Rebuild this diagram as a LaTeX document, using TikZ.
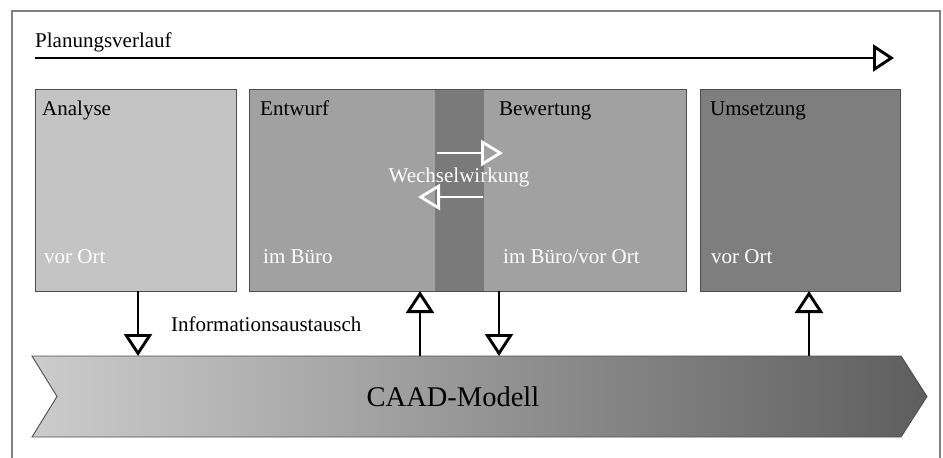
\documentclass[tikz,border=0pt]{standalone}
\usepackage{fontspec}
\setmainfont{Liberation Serif}
\usetikzlibrary{arrows.meta}

\definecolor{boxline}{HTML}{4E4E4E}
\definecolor{framegray}{HTML}{808080}
\definecolor{analysefill}{HTML}{C4C4C4}
\definecolor{entwurffill}{HTML}{A1A1A1}
\definecolor{stripfill}{HTML}{7A7A7A}
\definecolor{umsetzfill}{HTML}{7E7E7E}
\definecolor{bandleft}{HTML}{CCCCCC}
\definecolor{bandright}{HTML}{5E5E5E}

\tikzset{
  phase/.style={draw=boxline, line width=1pt, rectangle, anchor=north west,
    inner sep=0pt, outer sep=0pt, minimum height=202pt},
  title/.style={anchor=base west, inner sep=0pt, text=black},
  place/.style={anchor=base west, inner sep=0pt, text=white},
  flow/.style={line width=2.9pt, -{Triangle[open, length=21pt, width=27pt, line width=2.9pt]}},
  exchange/.style={line width=2.9pt, -{Triangle[open, length=22pt, width=28pt, line width=2.9pt]}},
  interplay/.style={draw=white, line width=2.8pt,
    -{Triangle[open, length=22pt, width=26pt, line width=2.8pt]}},
}

\begin{document}
\begin{tikzpicture}[x=1pt, y=-1pt, font=\fontsize{21}{25}\selectfont]
  \useasboundingbox (0,0) rectangle (943,458);
  \clip (0,0) rectangle (943,458);

  % outer frame (runs past the lower edge)
  \draw[framegray, line width=1.4pt] (12,480) -- (12,11) -- (940,11) -- (940,480);

  % planning timeline
  \node[title] (plan) at (35,47) {Planungsverlauf};
  \coordinate (pstart) at (35,58);
  \coordinate (pend) at (894,58);
  \draw[flow] (pstart) -- (pend);

  % phase boxes
  \node[phase, fill=analysefill, minimum width=201pt] (analyse) at (35,89) {};
  \node[phase, fill=entwurffill, minimum width=437pt] (entwurf) at (249,89) {};
  \node[rectangle, fill=stripfill, inner sep=0pt, anchor=north west,
        minimum width=49pt, minimum height=201pt] (strip) at (435,89.5) {};
  \draw[boxline, line width=1pt] (entwurf.north west) rectangle (entwurf.south east);
  \node[phase, fill=umsetzfill, minimum width=200pt] (umsetzung) at (700,89) {};

  % box titles
  \node[title] (tanalyse) at (42,115) {Analyse};
  \node[title] (tentwurf) at (260,115) {Entwurf};
  \node[title] (tbewertung) at (499,115) {Bewertung};
  \node[title] (tumsetzung) at (710,115) {Umsetzung};

  % places
  \node[place] (panalyse) at (44,263) {vor Ort};
  \node[place] (pentwurf) at (263,263) {im Büro};
  \node[place] (pbewertung) at (503,263) {im Büro/vor Ort};
  \node[place] (pumsetzung) at (711,263) {vor Ort};

  % interplay between design and evaluation
  \node[anchor=base, inner sep=0pt, text=white] (wechsel) at (459,182) {Wechselwirkung};
  \coordinate (wa1) at (437,153);
  \coordinate (wa2) at (503,153);
  \coordinate (wb1) at (483,197);
  \coordinate (wb2) at (418,197);
  \draw[interplay] (wa1) -- (wa2);
  \draw[interplay] (wb1) -- (wb2);

  % CAAD model band
  \shade[left color=bandleft, right color=bandright]
    (32,356) -- (901,356) -- (927,396.5) -- (901,437) -- (32,437) -- (57,396.5) -- cycle;
  \draw[boxline, line width=0.9pt, line join=miter]
    (32,356) -- (901,356) -- (927,396.5) -- (901,437) -- (32,437) -- (57,396.5) -- cycle;
  \node[inner sep=0pt, font=\fontsize{28.5}{32}\selectfont] (caad) at (453,397) {CAAD-Modell};
  \coordinate (bandtop) at (0,356);

  % information exchange with the model
  \coordinate (xa) at (138,0);
  \coordinate (xb) at (420,0);
  \coordinate (xc) at (499,0);
  \coordinate (xd) at (809,0);
  \draw[exchange] (xa |- analyse.south) -- (xa |- bandtop);
  \draw[exchange] (xb |- bandtop) -- (xb |- entwurf.south);
  \draw[exchange] (xc |- entwurf.south) -- (xc |- bandtop);
  \draw[exchange] (xd |- bandtop) -- (xd |- umsetzung.south);
  \node[title] (info) at (171,331) {Informationsaustausch};
\end{tikzpicture}
\end{document}
